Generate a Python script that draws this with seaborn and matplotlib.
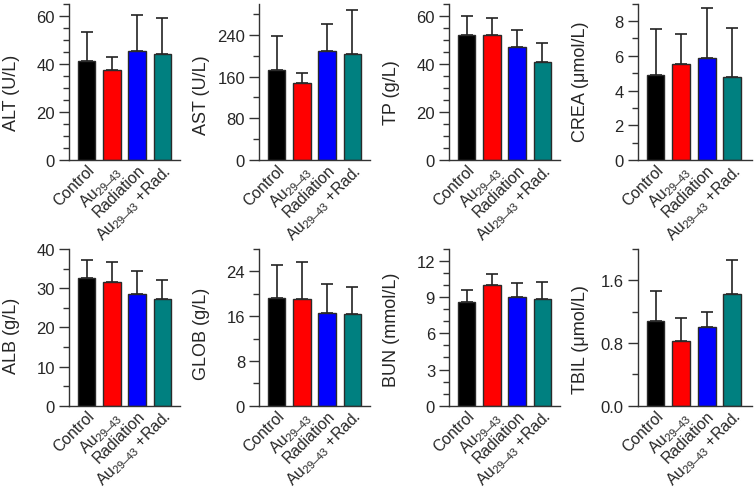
import numpy as np
import pandas as pd
import matplotlib
matplotlib.use("Agg")
import matplotlib.pyplot as plt
from matplotlib.ticker import MultipleLocator, FormatStrFormatter
import seaborn as sns

# ---------------- data ----------------
groups = ["Control", "Au29-43", "Radiation", "Au29-43+Rad."]
tick_labels = ["Control", r"Au$_{\mathregular{29–43}}$", "Radiation",
               r"Au$_{\mathregular{29–43}}$ +Rad."]
colors = ["#000000", "#FF0000", "#0000FF", "#008080"]

alt_mean = [41.0, 37.6, 45.2, 44.1]
alt_sd = [12.1, 5.4, 15.2, 15.0]
ast_mean = [172.0, 148.5, 208.6, 203.5]
ast_sd = [65.4, 18.5, 53.2, 83.9]
tp_mean = [52.0, 51.8, 46.8, 40.6]
tp_sd = [7.7, 7.4, 7.1, 8.0]
crea_mean = [4.88, 5.52, 5.90, 4.77]
crea_sd = [2.68, 1.71, 2.83, 2.83]
alb_mean = [32.5, 31.6, 28.6, 27.3]
alb_sd = [4.8, 5.0, 5.8, 4.7]
glob_mean = [19.3, 19.0, 16.5, 16.4]
glob_sd = [5.8, 6.6, 5.3, 4.8]
bun_mean = [8.58, 10.04, 8.99, 8.86]
bun_sd = [0.99, 0.88, 1.19, 1.43]
tbil_mean = [1.08, 0.83, 1.00, 1.42]
tbil_sd = [0.38, 0.29, 0.20, 0.44]

panels = [
    ("ALT (U/L)", alt_mean, alt_sd, 65, 20, 5, "%d"),
    ("AST (U/L)", ast_mean, ast_sd, 300, 80, 40, "%d"),
    ("TP (g/L)", tp_mean, tp_sd, 65, 20, 5, "%d"),
    ("CREA (μmol/L)", crea_mean, crea_sd, 9, 2, 1, "%d"),
    ("ALB (g/L)", alb_mean, alb_sd, 40, 10, 5, "%d"),
    ("GLOB (g/L)", glob_mean, glob_sd, 28, 8, 4, "%d"),
    ("BUN (mmol/L)", bun_mean, bun_sd, 13, 3, 1, "%d"),
    ("TBIL (μmol/L)", tbil_mean, tbil_sd, 2.0, 0.8, 0.4, "%.1f"),
]
label_ypos = [0.435, 0.42, 0.44, 0.51, 0.45, 0.467, 0.49, 0.43]

# ---------------- style ----------------
sns.set_theme(style="ticks")
plt.rcParams["font.family"] = ["Liberation Sans", "DejaVu Sans"]
plt.rcParams["mathtext.fontset"] = "custom"
plt.rcParams["mathtext.rm"] = "Liberation Sans"
plt.rcParams["mathtext.it"] = "Liberation Sans:italic"
plt.rcParams["mathtext.bf"] = "Liberation Sans:bold"

W, H = 755, 489
fig = plt.figure(figsize=(W / 100, H / 100), dpi=100)

col_left = [69, 259, 449, 637.7]
col_width = [111, 111, 111, 114]
row_top = [4.7, 250.0]
row_h = [156.3, 156.7]

axis_col = "#333333"

for i, (ylabel, mean, sd, ytop, major, minor, fmt) in enumerate(panels):
    r, c = divmod(i, 4)
    left = col_left[c] / W
    bottom = 1 - (row_top[r] + row_h[r]) / H
    ax = fig.add_axes([left, bottom, col_width[c] / W, row_h[r] / H])
    df = pd.DataFrame({"group": groups, "value": mean})
    sns.barplot(data=df, x="group", y="value", hue="group", order=groups,
                hue_order=groups, palette=colors, width=0.69,
                edgecolor="#2a2a2a", linewidth=1.0, ax=ax, legend=False,
                saturation=1, zorder=2)
    ax.errorbar(np.arange(len(groups)), mean, yerr=[np.zeros(len(sd)), sd],
                fmt="none", ecolor="#222222", elinewidth=1.2, capsize=4,
                capthick=1.2, zorder=1)
    ax.set_xlim(-0.7, 3.7 + (0.06 if c == 3 else 0))
    ax.set_ylim(0, ytop)
    ax.yaxis.set_major_locator(MultipleLocator(major))
    ax.yaxis.set_minor_locator(MultipleLocator(minor))
    ax.yaxis.set_major_formatter(FormatStrFormatter(fmt))
    ax.set_xticks(range(len(groups)))
    ax.set_xticklabels(tick_labels, rotation=45, ha="right", va="top",
                       rotation_mode="anchor", fontsize=11.3)
    ax.tick_params(axis="x", length=0, pad=1)
    ax.tick_params(axis="y", which="major", length=7, width=1.0,
                   color=axis_col, labelsize=12, pad=3)
    ax.tick_params(axis="y", which="minor", length=4, width=1.0,
                   color=axis_col)
    for s in ["top", "right"]:
        ax.spines[s].set_visible(False)
    for s in ["left", "bottom"]:
        ax.spines[s].set_color(axis_col)
        ax.spines[s].set_linewidth(1.0)
    ax.set_xlabel("")
    ax.set_ylabel(ylabel, fontsize=13)
    ax.yaxis.set_label_coords(-49 / col_width[c], label_ypos[i])

fig.savefig("out.png", dpi=100)
